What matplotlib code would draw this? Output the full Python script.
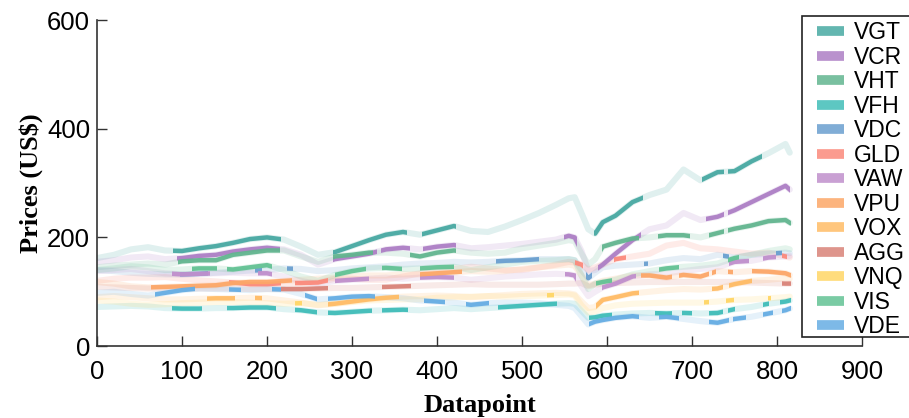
import numpy as np
import matplotlib.pyplot as plt
from matplotlib.lines import Line2D
from matplotlib.patches import Rectangle

# datapoint grid the values were read at
datapoint = list(range(0, 541, 20)) + [555, 562, 570, 578, 586, 595] + list(range(610, 811, 20)) + [815]

names = ['VGT', 'VCR', 'VHT', 'VFH', 'VDC', 'GLD', 'VAW', 'VPU', 'VOX', 'AGG', 'VNQ', 'VIS', 'VDE']
colors = ['#48a9a2', '#ad7fc5', '#62b58f', '#40bdb8', '#6a9fcf', '#fb8a7c', '#c08fcc',
          '#fca768', '#ffbc66', '#d98378', '#ffd666', '#63c294', '#66ade3']

vgt = [162, 168, 178, 182, 176, 175, 180, 184, 190, 197, 200, 196, 183, 168, 173, 184, 195, 205, 210, 205,
       213, 221, 212, 210, 220, 232, 245, 260, 272, 274, 245, 215, 207, 228, 240, 265, 278, 288, 325, 305,
       320, 322, 340, 355, 372, 356]
vcr = [155, 158, 163, 165, 160, 162, 166, 168, 174, 178, 181, 178, 168, 150, 160, 165, 170, 178, 181, 178,
       183, 186, 180, 182, 185, 188, 192, 196, 203, 200, 175, 138, 140, 150, 170, 195, 215, 222, 245, 232,
       238, 250, 265, 280, 295, 288]
vht = [145, 148, 150, 152, 150, 156, 158, 158, 168, 172, 176, 176, 165, 155, 165, 168, 172, 172, 170, 165,
       172, 176, 172, 170, 172, 180, 185, 190, 195, 193, 170, 150, 160, 183, 190, 198, 200, 204, 204, 200,
       208, 216, 222, 230, 232, 227]
vfh = [72, 73, 74, 73, 70, 69, 69, 70, 70, 71, 71, 68, 66, 62, 61, 63, 65, 66, 67, 66,
       68, 70, 68, 70, 72, 74, 76, 78, 79, 78, 65, 52, 53, 56, 58, 60, 61, 60, 61, 60,
       61, 68, 72, 78, 82, 84]
vdc = [140, 138, 135, 133, 132, 132, 133, 135, 137, 139, 140, 143, 142, 138, 140, 143, 145, 147, 150, 152,
       153, 155, 154, 155, 157, 158, 160, 160, 160, 158, 140, 125, 135, 145, 148, 150, 152, 158, 162, 160,
       168, 163, 168, 170, 172, 171]
gld = [120, 124, 126, 126, 127, 124, 121, 119, 117, 114, 114, 116, 116, 117, 124, 124, 122, 122, 128, 134,
       140, 142, 146, 143, 140, 140, 145, 150, 155, 154, 150, 140, 145, 150, 160, 165, 170, 185, 190, 180,
       178, 174, 170, 172, 165, 163]
vaw = [138, 140, 142, 138, 134, 132, 133, 134, 135, 134, 134, 128, 120, 114, 120, 122, 124, 126, 124, 126,
       127, 126, 122, 125, 128, 130, 132, 133, 132, 130, 110, 92, 100, 108, 115, 128, 132, 134, 138, 142,
       145, 155, 157, 163, 165, 166]
vpu = [118, 115, 110, 108, 109, 110, 111, 112, 116, 118, 118, 120, 122, 124, 126, 128, 130, 130, 132, 132,
       134, 136, 138, 137, 138, 142, 145, 148, 150, 148, 130, 112, 115, 120, 124, 130, 130, 126, 131, 128,
       138, 136, 138, 137, 134, 131]
vox = [90, 92, 90, 88, 86, 86, 87, 88, 88, 89, 88, 84, 80, 75, 78, 82, 86, 89, 91, 92,
       93, 92, 90, 92, 94, 96, 97, 98, 97, 95, 82, 70, 72, 85, 90, 97, 100, 103, 105, 104,
       106, 114, 120, 122, 125, 124]
agg = [109, 108, 107, 106, 106, 106, 106, 106, 106, 105, 105, 105, 105, 106, 107, 107, 108, 109, 110, 111,
       112, 113, 114, 113, 113, 113, 113, 114, 115, 115, 116, 110, 113, 115, 116, 117, 118, 118, 118, 118,
       118, 118, 117, 116, 115, 115]
vnq = [84, 82, 78, 76, 77, 79, 80, 81, 81, 80, 79, 78, 79, 76, 78, 81, 84, 85, 86, 86,
       89, 90, 91, 92, 91, 92, 93, 94, 95, 93, 75, 62, 64, 70, 75, 78, 79, 80, 80, 80,
       82, 85, 86, 88, 90, 91]
vis = [140, 143, 147, 145, 140, 141, 143, 143, 141, 145, 149, 140, 128, 120, 131, 138, 143, 144, 142, 143,
       145, 146, 140, 145, 150, 155, 157, 158, 160, 158, 130, 105, 115, 118, 122, 132, 138, 143, 146, 148,
       152, 162, 168, 175, 180, 178]
vde = [98, 100, 96, 93, 98, 103, 106, 105, 104, 103, 105, 104, 96, 86, 88, 91, 92, 90, 88, 84,
       82, 80, 76, 79, 80, 80, 79, 76, 74, 70, 55, 40, 45, 48, 52, 55, 52, 54, 50, 46,
       43, 50, 54, 60, 66, 69]

# datapoint ranges where each series is drawn in full colour
vgt_on = [(90, 216), (278, 365), (382, 422), (585, 642), (712, 738), (742, 782)]
vcr_on = [(94, 215), (278, 330), (334, 368), (384, 422), (550, 565), (590, 640), (716, 738), (742, 815)]
vht_on = [(95, 215), (278, 325), (368, 422), (594, 638), (660, 698), (720, 738), (742, 816)]
vfh_on = [(88, 123), (153, 211), (233, 259), (272, 323), (335, 366), (472, 541), (579, 606),
          (657, 677), (688, 700), (720, 736), (742, 750), (783, 790), (803, 816)]
vdc_on = [(98, 131), (186, 194), (223, 231), (469, 520), (575, 582), (643, 648), (736, 744), (799, 806)]
gld_on = [(155, 217), (233, 272), (562, 572), (608, 622), (806, 812)]
vaw_on = [(88, 133), (190, 206), (280, 320), (380, 420), (551, 563), (594, 634), (744, 767), (783, 799)]
vpu_on = [(64, 229), (380, 430), (640, 677), (685, 720), (724, 728), (742, 748), (771, 816)]
vox_on = [(129, 162), (186, 194), (272, 355), (587, 638), (724, 736), (744, 771)]
agg_on = [(217, 272), (335, 370), (806, 816)]
vnq_on = [(233, 241), (530, 538), (714, 720), (740, 749), (789, 793)]
vis_on = [(112, 141), (153, 206), (280, 316), (335, 359), (380, 420), (587, 606), (661, 685), (742, 755)]
vde_on = [(68, 115), (155, 170), (206, 217), (245, 259), (272, 327), (385, 410), (434, 461),
          (579, 638), (661, 685), (720, 744), (748, 763), (783, 795), (806, 816)]

series = [vgt, vcr, vht, vfh, vdc, gld, vaw, vpu, vox, agg, vnq, vis, vde]
windows = [vgt_on, vcr_on, vht_on, vfh_on, vdc_on, gld_on, vaw_on, vpu_on, vox_on, agg_on, vnq_on, vis_on, vde_on]

plt.rcParams['font.family'] = ['Liberation Sans', 'DejaVu Sans']

fig = plt.figure(figsize=(9.09, 4.18), dpi=100)
ax = fig.add_axes([0.1067, 0.172, 0.8416, 0.780])

# faint full history first
for y, c in zip(series, colors):
    ax.plot(datapoint, y, color=c, lw=4.4, alpha=0.17, solid_capstyle='round')

# then the highlighted stretches, clipped out of the same line
for y, c, win in zip(series, colors, windows):
    for a, b in win:
        ln, = ax.plot(datapoint, y, color=c, lw=3.2, alpha=0.95)
        ln.set_clip_path(Rectangle((a, -50), b - a, 700, transform=ax.transData))

ax.set_xlim(0, 900)
ax.set_ylim(0, 600)
ax.set_xticks(range(0, 901, 100))
ax.set_yticks([0, 200, 400, 600])
ax.tick_params(direction='in', length=7, width=1, labelsize=18.5, color='#333333')
ax.tick_params(axis='x', pad=10)
ax.tick_params(axis='y', pad=5)
for s in ['top', 'right']:
    ax.spines[s].set_visible(False)
for s in ['left', 'bottom']:
    ax.spines[s].set_color('#333333')
    ax.spines[s].set_linewidth(1.2)

ax.set_xlabel('Datapoint', fontfamily='Liberation Serif', fontweight='bold', fontsize=19, labelpad=7)
ax.set_ylabel('Prices (US$)', fontfamily='Liberation Serif', fontweight='bold', fontsize=19, labelpad=3)

# legend box runs off the right edge of the figure, so draw the frame separately
fig.patches.append(Rectangle((802 / 909, 1 - 337 / 418), 0.2, 321 / 418, transform=fig.transFigure,
                             facecolor='white', edgecolor='#222222', lw=1.2, zorder=5))
handles = [Line2D([], [], color=c, lw=7, alpha=0.85, solid_capstyle='butt') for c in colors]
leg = fig.legend(handles, names, loc='upper left', bbox_to_anchor=(815 / 909, 1 - 19 / 418),
                 frameon=False, fontsize=16.5,
                 labelspacing=0.065, handlelength=1.15, handletextpad=0.45, borderpad=0.1,
                 borderaxespad=0)
leg.set_zorder(6)

fig.savefig('out.png', dpi=100)
